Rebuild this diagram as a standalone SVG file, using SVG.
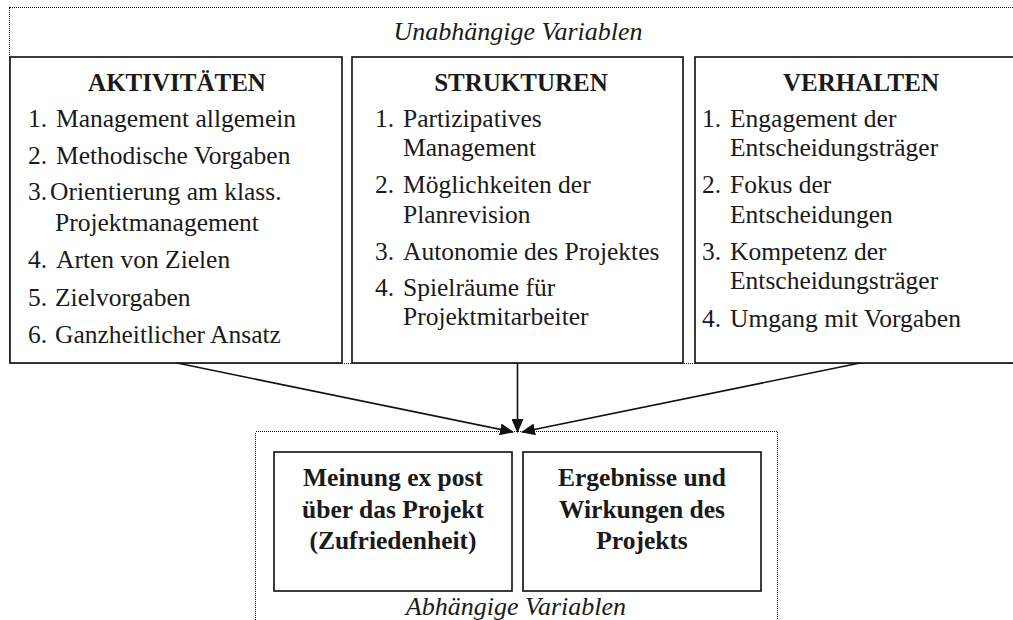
<svg xmlns="http://www.w3.org/2000/svg" width="1013" height="620" viewBox="0 0 1013 620">
  <style>
    text { font-family: "Liberation Serif", "Times New Roman", serif; fill: #1a1a1a; font-size: 25.5px; }
    .head { font-weight: bold; text-anchor: middle; font-size: 25px; }
    .cap { font-style: italic; text-anchor: middle; font-size: 26px; }
    .bold { font-weight: bold; text-anchor: middle; font-size: 25.5px; }
    .box { fill: #ffffff; stroke: #1a1a1a; stroke-width: 1.7; }
    .frame { fill: none; stroke: #111111; stroke-width: 1; stroke-dasharray: 1 1; shape-rendering: crispEdges; }
    .conn { stroke: #111111; stroke-width: 1.6; fill: none; marker-end: url(#arrow); }
  </style>
  <defs>
    <marker id="arrow" markerUnits="userSpaceOnUse" markerWidth="14" markerHeight="12" refX="13" refY="6" orient="auto">
      <path d="M0,0 L14,6 L0,12 z" fill="#111111"/>
    </marker>
  </defs>

  <rect width="1013" height="620" fill="#ffffff"/>

  <!-- independent variables frame -->
  <g id="independent">
    <rect class="frame" x="9.5" y="7.5" width="1030" height="355.5"/>
    <text class="cap" x="518" y="40">Unabhängige Variablen</text>
  </g>

  <g id="aktivitaeten">
    <rect class="box" x="10" y="57" width="332" height="306"/>
    <text class="head" x="177" y="91">AKTIVITÄTEN</text>
    <text x="28" y="127">1.</text><text x="56" y="127">Management allgemein</text>
    <text x="28" y="164">2.</text><text x="56" y="164">Methodische Vorgaben</text>
    <text x="28" y="200">3.</text><text x="50" y="200">Orientierung am klass.</text>
    <text x="55" y="231">Projektmanagement</text>
    <text x="28" y="268">4.</text><text x="56" y="268">Arten von Zielen</text>
    <text x="28" y="306">5.</text><text x="55" y="306">Zielvorgaben</text>
    <text x="28" y="343">6.</text><text x="55" y="343">Ganzheitlicher Ansatz</text>
  </g>

  <g id="strukturen">
    <rect class="box" x="352" y="57" width="331" height="306"/>
    <text class="head" x="521" y="91">STRUKTUREN</text>
    <text x="375" y="127">1.</text><text x="403" y="127">Partizipatives</text>
    <text x="403" y="156">Management</text>
    <text x="375" y="193">2.</text><text x="403" y="193">Möglichkeiten der</text>
    <text x="403" y="223">Planrevision</text>
    <text x="375" y="260">3.</text><text x="403" y="260">Autonomie des Projektes</text>
    <text x="375" y="296">4.</text><text x="403" y="296">Spielräume für</text>
    <text x="403" y="325">Projektmitarbeiter</text>
  </g>

  <g id="verhalten">
    <rect class="box" x="695" y="57" width="332" height="306"/>
    <text class="head" x="861" y="91">VERHALTEN</text>
    <text x="702" y="127">1.</text><text x="730" y="127">Engagement der</text>
    <text x="730" y="156">Entscheidungsträger</text>
    <text x="702" y="193">2.</text><text x="730" y="193">Fokus der</text>
    <text x="730" y="223">Entscheidungen</text>
    <text x="702" y="260">3.</text><text x="730" y="260">Kompetenz der</text>
    <text x="730" y="289">Entscheidungsträger</text>
    <text x="702" y="327">4.</text><text x="730" y="327">Umgang mit Vorgaben</text>
  </g>

  <!-- dependent variables frame -->
  <g id="dependent">
    <rect class="frame" x="255.5" y="431.5" width="522" height="200"/>
    <text class="cap" x="516" y="615">Abhängige Variablen</text>
  </g>

  <g id="meinung">
    <rect class="box" x="274" y="452" width="238" height="139"/>
    <text class="bold" x="393" y="486">Meinung ex post</text>
    <text class="bold" x="393" y="518">über das Projekt</text>
    <text class="bold" x="393" y="549">(Zufriedenheit)</text>
  </g>

  <g id="ergebnisse">
    <rect class="box" x="523" y="452" width="238" height="139"/>
    <text class="bold" x="642" y="486">Ergebnisse und</text>
    <text class="bold" x="642" y="518">Wirkungen des</text>
    <text class="bold" x="642" y="549">Projekts</text>
  </g>

  <g id="connectors">
    <line class="conn" x1="177" y1="363" x2="513" y2="432"/>
    <line class="conn" x1="517.5" y1="363" x2="517.5" y2="432"/>
    <line class="conn" x1="860" y1="363" x2="522" y2="432"/>
  </g>
</svg>
